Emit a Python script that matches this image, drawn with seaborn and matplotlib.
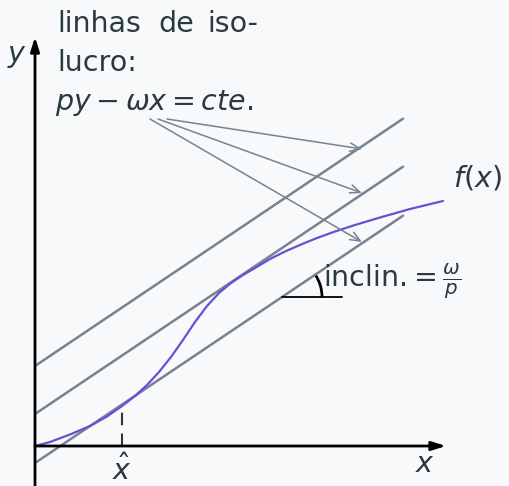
import numpy as np
import pandas as pd
import matplotlib
matplotlib.use("Agg")
import matplotlib.pyplot as plt
from matplotlib.patches import Arc
import seaborn as sns

# production function f(x), sampled along the curve
curve_x = [0, 15, 35, 55, 72, 87, 100, 112, 124, 136, 148, 160, 172, 184, 196,
           208, 220, 235, 250, 266, 282, 300, 320, 345, 375, 408]
curve_y = [0, 4, 11.5, 20, 29.5, 40, 50, 61, 74, 89, 106, 124, 140, 153, 163,
           171, 178, 187, 194.5, 201.5, 208, 214.5, 221, 228.5, 237, 245]

# iso-profit lines  p*y - w*x = cte  ->  y = (w/p) x + c
iso_slope = 0.672
iso_intercepts = [80, 32, -17]
iso_x_range = [0, 368]

x_hat = 87

BG = "#f8f9fa"
GRAY = "#768391"
PURPLE = "#6a4fd6"
TEXT = "#2a3a3f"

sns.set_theme(style="white", rc={"axes.facecolor": BG, "figure.facecolor": BG})
plt.rcParams["font.family"] = ["DejaVu Sans"]
plt.rcParams["mathtext.fontset"] = "dejavusans"

fig = plt.figure(figsize=(5.09, 4.86), dpi=100)
ax = fig.add_axes([0, 0, 1, 1])
ax.set_xlim(-35, 474)
ax.set_ylim(-40, 446)
ax.set_axis_off()


def P(px, py):
    """screen-style position -> plot coordinates (origin at the axes crossing)"""
    return px - 35, 446 - py


# iso-profit lines
rows = []
for k, c in enumerate(iso_intercepts):
    for xv in iso_x_range:
        rows.append({"x": xv, "y": iso_slope * xv + c, "line": k})
iso_df = pd.DataFrame(rows)
sns.lineplot(data=iso_df, x="x", y="y", units="line", estimator=None,
             color=GRAY, lw=1.8, ax=ax, legend=False)

# f(x)
curve_df = pd.DataFrame({"x": curve_x, "y": curve_y})
sns.lineplot(data=curve_df, x="x", y="y", sort=False, estimator=None,
             color=PURPLE, lw=1.6, ax=ax)

# axes with arrows
ax.annotate("", xy=P(35, 37), xytext=P(35, 490),
            arrowprops=dict(arrowstyle="-|>,head_length=0.7,head_width=0.22",
                            color="black", lw=2, shrinkA=0, shrinkB=0))
ax.annotate("", xy=P(446, 446), xytext=P(35, 446),
            arrowprops=dict(arrowstyle="-|>,head_length=0.7,head_width=0.22",
                            color="black", lw=2, shrinkA=0, shrinkB=0))

# dashed marker at x-hat
ax.plot([x_hat, x_hat], [0, iso_slope * x_hat + iso_intercepts[2]],
        color="#333333", lw=1.5, ls=(0, (6, 4)))

# slope angle marker
c_low = iso_intercepts[2]
ya = 149
xa = (ya - c_low) / iso_slope
ax.plot([xa, xa + 60], [ya, ya], color="black", lw=1.3)
ax.add_patch(Arc((xa, ya), 80, 80, theta1=0,
                 theta2=np.degrees(np.arctan(iso_slope)), color="black", lw=2))

# callout arrows from the label to each iso-profit line
starts = [(167, 119), (158, 119), (150, 119)]
ends = [(362, 149), (362, 193), (362, 242)]
for s, e in zip(starts, ends):
    ax.annotate("", xy=P(*e), xytext=P(*s),
                arrowprops=dict(arrowstyle="->,head_length=0.6,head_width=0.25",
                                color=GRAY, lw=1.1, shrinkA=0, shrinkB=0))

fs = 20.5
for word, px in [("linhas", 57), ("de", 158), ("iso-", 207)]:
    ax.text(*P(px, 32), word, fontsize=fs, color=TEXT, va="baseline")
ax.text(*P(57, 71), "lucro:", fontsize=fs, color=TEXT, va="baseline")
ax.text(*P(55, 110), r"$py - \omega x = cte.$", fontsize=fs, color=TEXT,
        va="baseline")
ax.text(*P(17, 62), r"$y$", fontsize=fs, color=TEXT, va="baseline", ha="center")
ax.text(*P(425, 472), r"$x$", fontsize=fs, color=TEXT, va="baseline", ha="center")
ax.text(*P(122, 480), r"$\hat{x}$", fontsize=fs, color=TEXT, va="baseline",
        ha="center")
ax.text(*P(453, 186), r"$f(x)$", fontsize=fs, color=TEXT, va="baseline")
ax.text(*P(323, 287), r"inclin.$=\frac{\omega}{p}$", fontsize=fs, color=TEXT,
        va="baseline")

fig.savefig("out.png", dpi=100, facecolor=BG)
